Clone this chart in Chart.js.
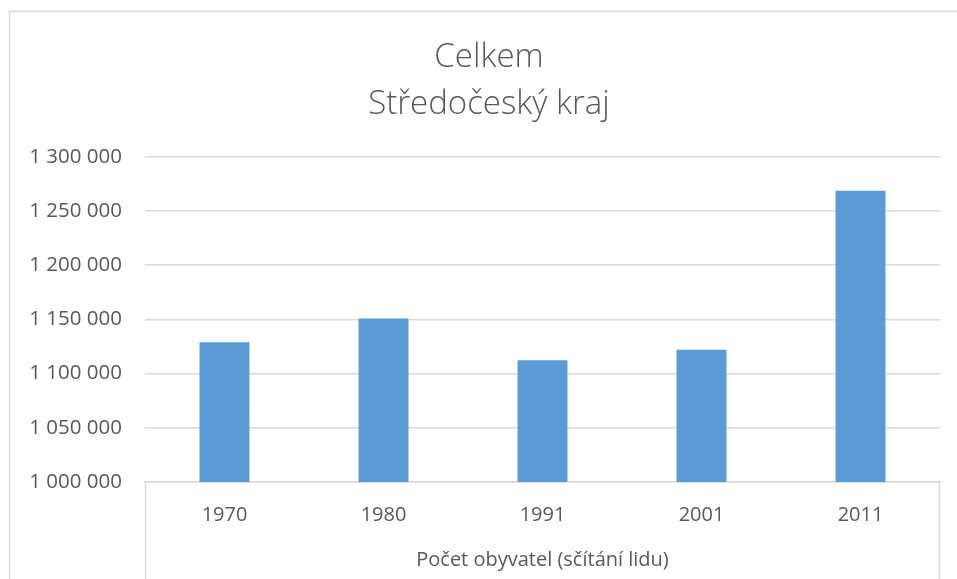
<!DOCTYPE html>
<html>
<head>
<meta charset="utf-8">
<script src="https://cdn.jsdelivr.net/npm/chart.js@4/dist/chart.umd.min.js"></script>
<style>
  html, body { margin: 0; padding: 0; background: #fff; }
  #wrap { width: 957px; height: 579px; position: relative; }
</style>
</head>
<body>
<div id="wrap"><canvas id="popChart"></canvas></div>
<script>
// Data
const years = ['1970', '1980', '1991', '2001', '2011'];
const population = [1129000, 1150800, 1112300, 1121900, 1268600];
const titleLines = ['Celkem', 'Středočeský kraj'];
const axisTitle = 'Počet obyvatel (sčítání lidu)';

const textColor = '#595959';
const lineColor = '#d9d9d9';

// Format numbers as "1 300 000"
function formatSpaces(value) {
    return String(value).replace(/\B(?=(\d{3})+(?!\d))/g, ' ');
}

// Frame of the chart and the box round the category labels
const framePlugin = {
    id: 'frame',
    afterLayout(chart) {
        // the original chart is cropped on the right, so its title sits a bit right of centre
        if (chart.titleBlock) chart.titleBlock.left += 38;
    },
    afterDraw(chart) {
        const ctx = chart.ctx;
        const area = chart.chartArea;
        ctx.save();
        ctx.strokeStyle = lineColor;
        ctx.lineWidth = 1.5;
        ctx.beginPath();
        // outer border (left + top)
        ctx.moveTo(9.5, chart.height);
        ctx.lineTo(9.5, 11.5);
        ctx.lineTo(chart.width, 11.5);
        // category box sides
        ctx.moveTo(Math.round(area.left) + 0.5, area.bottom);
        ctx.lineTo(Math.round(area.left) + 0.5, chart.height);
        ctx.moveTo(Math.round(area.right) - 0.5, area.bottom);
        ctx.lineTo(Math.round(area.right) - 0.5, chart.height);
        ctx.stroke();
        ctx.restore();
    }
};

const ctx = document.getElementById('popChart');
new Chart(ctx, {
    type: 'bar',
    data: {
        labels: years,
        datasets: [{
            label: axisTitle,
            data: population,
            backgroundColor: '#5b9bd5',
            borderWidth: 0,
            categoryPercentage: 1,
            barPercentage: 0.314
        }]
    },
    options: {
        responsive: true,
        maintainAspectRatio: false,
        animation: false,
        layout: {
            padding: { left: 0, right: 17, top: 0, bottom: 6 }
        },
        plugins: {
            legend: { display: false },
            tooltip: { enabled: false },
            title: {
                display: true,
                text: titleLines,
                color: textColor,
                font: { family: 'Open Sans', size: 33, weight: '300', lineHeight: 1.42 },
                padding: { top: 34, bottom: 29 }
            }
        },
        scales: {
            y: {
                min: 1000000,
                max: 1300000,
                afterFit: function(scale) { scale.width = 145; },
                ticks: {
                    stepSize: 50000,
                    padding: 23,
                    color: textColor,
                    font: { family: 'Open Sans', size: 20.5 },
                    callback: function(value) { return formatSpaces(value); }
                },
                grid: { color: lineColor, lineWidth: 1.5, drawTicks: false },
                border: { display: false }
            },
            x: {
                ticks: {
                    padding: 21,
                    color: textColor,
                    font: { family: 'Open Sans', size: 20 }
                },
                grid: { display: false, drawTicks: false },
                border: { display: true, color: lineColor, width: 1.5 },
                title: {
                    display: true,
                    text: axisTitle,
                    color: textColor,
                    font: { family: 'Open Sans', size: 20 },
                    padding: { top: 0, bottom: 1 }
                }
            }
        }
    },
    plugins: [framePlugin]
});
</script>
</body>
</html>
